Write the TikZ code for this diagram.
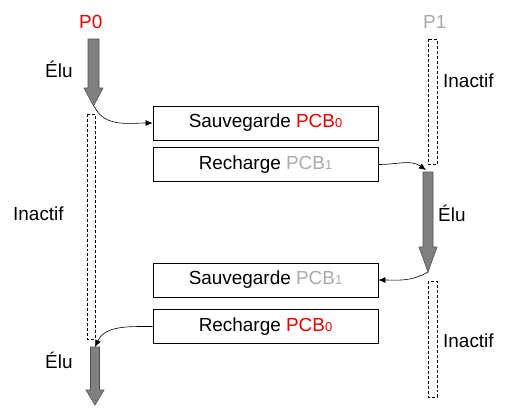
\documentclass[tikz,border=0pt]{standalone}
\usepackage{fontspec}
\setmainfont{Liberation Sans}
\usetikzlibrary{arrows.meta}
\definecolor{pred}{RGB}{230,0,0}
\definecolor{pgray}{RGB}{170,170,170}
\definecolor{afill}{RGB}{128,128,128}
\definecolor{aline}{RGB}{80,80,80}
\newcommand{\sub}[1]{{\fontsize{13}{13}\selectfont #1}}
\tikzset{
  txt/.style={font=\fontsize{19}{23}\selectfont, inner sep=0pt, anchor=base west},
  pcbbox/.style={draw=black, line width=0.8pt, minimum width=225bp, minimum height=34bp, inner sep=0pt, font=\fontsize{19}{23}\selectfont},
  fat/.style={fill=afill, draw=aline, line width=0.6pt},
  idle/.style={draw=black, line width=0.6pt, dash pattern=on 3pt off 2pt},
  conn/.style={draw=black, line width=0.6pt, -{Latex[length=7bp,width=6bp]}}
}
\begin{document}
\begin{tikzpicture}[x=1bp,y=-1bp]
\useasboundingbox (0,0) rectangle (505,419);
% labels
\node[txt, text=pred] (lp0) at (79,28) {P0};
\node[txt, text=pgray] (lp1) at (423,28) {P1};
\node[txt] (elu1) at (45,77) {Élu};
\node[txt] (ina1) at (13,220) {Inactif};
\node[txt] (elu2) at (45,368) {Élu};
\node[txt] (ina2) at (443,87) {Inactif};
\node[txt] (elu3) at (438,221) {Élu};
\node[txt] (ina3) at (443,347) {Inactif};
% boxes
\node[pcbbox] (sav0) at (265.5,123) {Sauvegarde \textcolor{pred}{PCB\sub{0}}};
\node[pcbbox] (rec1) at (265.5,164.5) {Recharge \textcolor{pgray}{PCB\sub{1}}};
\node[pcbbox] (sav1) at (265.5,280) {Sauvegarde \textcolor{pgray}{PCB\sub{1}}};
\node[pcbbox] (rec0) at (265.5,326.5) {Recharge \textcolor{pred}{PCB\sub{0}}};
% fat arrows
\draw[fat] (88,39) -- (99,39) -- (99,88) -- (103,88) -- (93.5,106) -- (84,88) -- (88,88) -- cycle;
\coordinate (p0tip) at (94,106);
\draw[fat] (90.5,347) -- (99.5,347) -- (99.5,390) -- (104,390) -- (95,405) -- (86,390) -- (90.5,390) -- cycle;
\coordinate (p0top) at (95,347);
\draw[fat] (423,172) -- (433,172) -- (433,247) -- (437,247) -- (428,272) -- (419,247) -- (423,247) -- cycle;
\coordinate (p1top) at (426,170);
\coordinate (p1tip) at (428,272);
% idle rectangles
\draw[idle] (87,114) rectangle (95,339);
\draw[idle] (428,39) rectangle (437,164);
\draw[idle] (428,281) rectangle (437,397);
% connectors
\draw[conn] (p0tip) to[out=-65,in=180] (sav0.west);
\draw[conn] (rec1.east) to[out=0,in=145] (p1top);
\draw[conn] (p1tip) to[out=-150,in=0] (sav1.east);
\draw[conn] (rec0.west) to[out=180,in=65] (p0top);
\end{tikzpicture}
\end{document}
